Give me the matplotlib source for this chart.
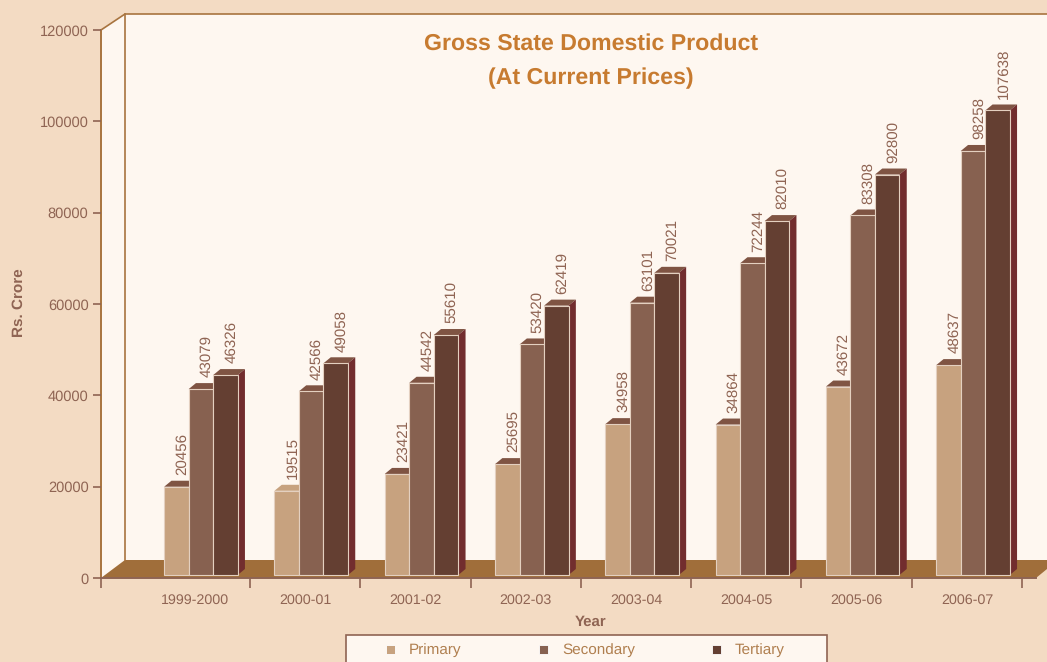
import matplotlib
matplotlib.use("Agg")
import matplotlib.pyplot as plt
from matplotlib.patches import Polygon, Rectangle

plt.rcParams['font.family'] = ['Liberation Sans', 'DejaVu Sans']
plt.rcParams['text.hinting'] = 'none'

years = ["1999-2000", "2000-01", "2001-02", "2002-03", "2003-04", "2004-05", "2005-06", "2006-07"]
primary = [20456, 19515, 23421, 25695, 34958, 34864, 43672, 48637]
secondary = [43079, 42566, 44542, 53420, 63101, 72244, 83308, 98258]
tertiary = [46326, 49058, 55610, 62419, 70021, 82010, 92800, 107638]
series_names = ["Primary", "Secondary", "Tertiary"]
y_ticks = [0, 20000, 40000, 60000, 80000, 100000, 120000]

BG = "#F3DBC3"
WALL = "#FEF7F0"
FLOOR = "#A06E3A"
WALL_LINE = "#A8743F"
TEXT = "#8F6453"
LEGEND_TEXT = "#B07F4F"
TITLE = "#C77B30"
FRONT = ["#C7A27F", "#876150", "#643F32"]
TOP = "#7F5443"
SIDE = "#722D2E"
EDGE = "#E4D0C0"

W, H = 1047, 662
fig = plt.figure(figsize=(W / 100, H / 100), dpi=100, facecolor=BG)

# full figure canvas in pixels for walls, floor, title and legend
bg = fig.add_axes([0, 0, 1, 1], zorder=0)
bg.set_xlim(0, W)
bg.set_ylim(H, 0)
bg.axis("off")

bg.add_patch(Polygon([(101, 30), (125, 14), (1047, 14), (1047, 560), (125, 560), (101, 578)],
                     closed=True, fc=WALL, ec="none"))
bg.add_patch(Polygon([(101, 578), (125, 560), (1047, 560), (1047, 569), (1036, 578)],
                     closed=True, fc=FLOOR, ec="none"))
bg.plot([101, 125, 1047], [30, 14, 14], color=WALL_LINE, lw=1.2)
bg.plot([125, 125], [14, 560], color=WALL_LINE, lw=1.2)
bg.plot([101, 101], [30, 578], color=WALL_LINE, lw=1.4)
bg.plot([1020, 1036], [578, 578], color=TEXT, lw=1.4)

bg.text(591.5, 43.5, "Gross State Domestic Product", color=TITLE, fontsize=16.65, fontweight="bold",
        ha="center", va="center")
bg.text(591, 78.5, "(At Current Prices)", color=TITLE, fontsize=16.65, fontweight="bold",
        ha="center", va="center")
bg.text(18.5, 303, "Rs. Crore", color=TEXT, fontsize=11, fontweight="bold", rotation=90,
        ha="center", va="center")
bg.text(591, 622, "Year", color=TEXT, fontsize=10.8, fontweight="bold", ha="center", va="center")

# legend box runs off the bottom edge
bg.add_patch(Rectangle((346, 635), 481, 40, fc=WALL, ec=TEXT, lw=1.2))
for name, color, mx, tx in zip(series_names, FRONT, [390.5, 543, 716], [409, 562, 735]):
    bg.add_patch(Rectangle((mx - 4.5, 645), 9, 9, fc=color, ec="white", lw=0.6))
    bg.text(tx, 650.5, name, color=LEGEND_TEXT, fontsize=11, ha="left", va="center")

# value axis: 0 at y=578px, 120000 at y=30px, x spans 101..1022px
left, right, y0, y1 = 101, 1022, 578, 30
cat_w = 110.3
pos = [left / W, 1 - y0 / H, (right - left) / W, (y0 - y1) / H]
xlim = ((left - 195) / cat_w, (right - 195) / cat_w)

ax = fig.add_axes(pos, zorder=1)
ax.patch.set_alpha(0)
ax.set_xlim(*xlim)
ax.set_ylim(0, 120000)
for s in ["top", "right", "left"]:
    ax.spines[s].set_visible(False)
ax.spines["bottom"].set_color(TEXT)
ax.spines["bottom"].set_linewidth(1.4)
ax.set_yticks(y_ticks)
ax.set_xticks([xlim[0]] + [i + 0.5 for i in range(len(years))])
ax.set_xticklabels([])
ax.tick_params(axis="y", colors=TEXT, length=6, width=1.2, labelsize=10.5, pad=3)
ax.tick_params(axis="x", color=TEXT, length=7.5, width=1.2)
for i, year in enumerate(years):
    bg.text(195 + cat_w * i, 600.5, year, color=TEXT, fontsize=10.3, ha="center", va="center")

# bars stand a little inside the front plane, so they get their own slightly reduced scale
depth_scale = 0.945
px_per_unit = (y0 - y1) / 120000 * depth_scale
bar_base_px = 3
bars = fig.add_axes(pos, zorder=2)
bars.patch.set_alpha(0)
bars.axis("off")
bars.set_xlim(*xlim)
bars.set_ylim(-bar_base_px / px_per_unit, (y0 - y1 - bar_base_px) / px_per_unit)

bar_w = 24.5 / cat_w
group_shift = 5.9 / cat_w
dx = 7.3 / cat_w
dy = 6 / px_per_unit
series = [primary, secondary, tertiary]

for i in range(len(years)):
    for j, values in enumerate(series):
        v = values[i]
        x = i + group_shift + (j - 1) * bar_w
        x0, x1 = x - bar_w / 2, x + bar_w / 2
        z = 3 + i * 3 + j
        top_color = FRONT[0] if (j == 0 and i == 1) else TOP
        bars.add_patch(Polygon([(x0, v), (x1, v), (x1 + dx, v + dy), (x0 + dx, v + dy)],
                               closed=True, fc=top_color, ec="none", zorder=z))
        bars.add_patch(Polygon([(x1, 0), (x1 + dx, dy), (x1 + dx, v + dy), (x1, v)],
                               closed=True, fc=SIDE, ec="none", zorder=z))
        bars.bar(x, v, width=bar_w, color=FRONT[j], edgecolor=EDGE, linewidth=0.8, zorder=z + 0.5)
        bars.annotate(str(v), (x, v), xytext=(4.2, 8.4), textcoords="offset points", rotation=90,
                      color=TEXT, fontsize=10.9, ha="center", va="bottom", zorder=60)

fig.savefig("out.png", dpi=100, facecolor=BG)
